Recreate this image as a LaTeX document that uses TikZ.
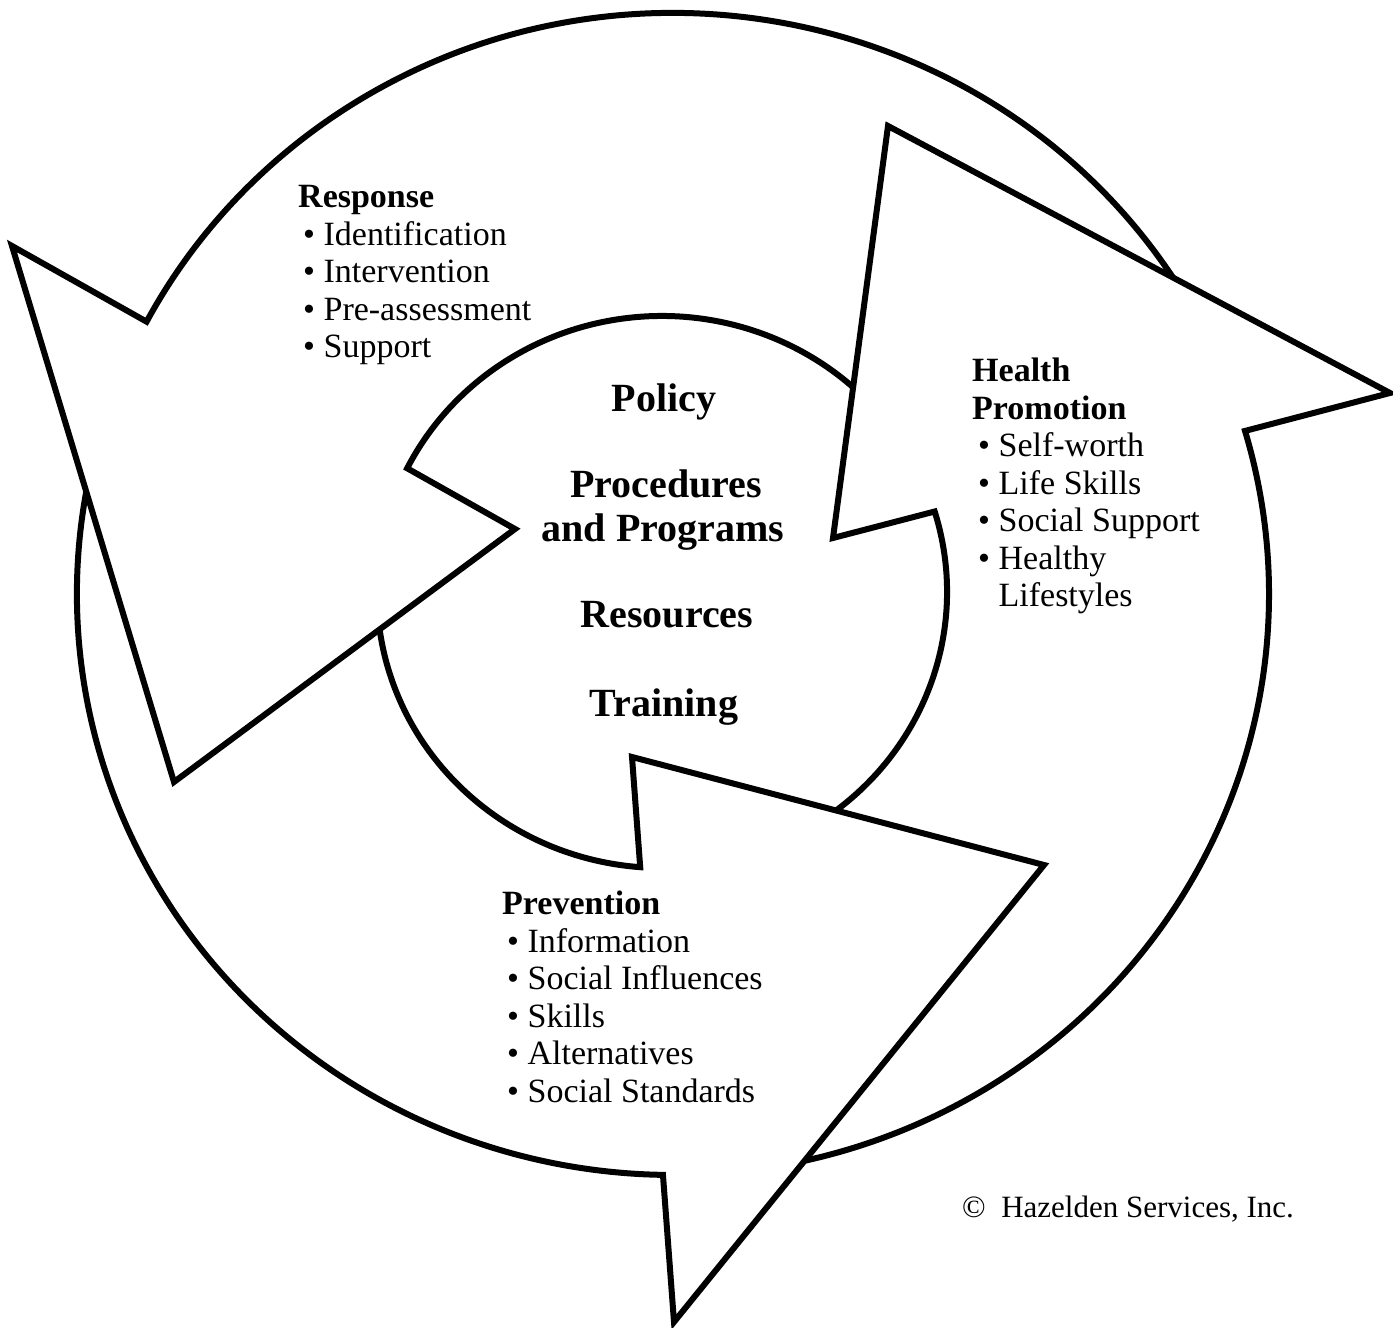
\documentclass[tikz,border=0pt]{standalone}
\usepackage{fontspec}
\setmainfont{Liberation Serif}
\usetikzlibrary{intersections,calc}
\begin{document}
\begin{tikzpicture}[x=1pt,y=1pt]
\tikzset{
  arrowline/.style={line width=6pt, line join=miter},
  item/.style={anchor=base west, inner sep=0pt, font=\fontsize{34}{37}\selectfont},
  head/.style={anchor=base west, inner sep=0pt, font=\bfseries\fontsize{34}{37}\selectfont},
  core/.style={anchor=base, inner sep=0pt, font=\bfseries\fontsize{40}{44}\selectfont},
  note/.style={anchor=base west, inner sep=0pt, font=\fontsize{31}{34}\selectfont}
}
\useasboundingbox[fill=white] (0,0) rectangle (1393,1328);

% centres of the two rings
\coordinate (Oc) at (673,734);
\coordinate (Ic) at (662,736);
% arrow heads: base outer end, base inner end, apex
\coordinate (RO) at (12,1082);
\coordinate (RI) at (515,799);
\coordinate (RA) at (174,546);
\coordinate (HO) at (1390,935);
\coordinate (HI) at (833,790);
\coordinate (HA) at (888,1202);
\coordinate (PI) at (632,571);
\coordinate (PO) at (674,6);
\coordinate (PA) at (1044,463);

\path[name path=outer] (Oc) ellipse [x radius=596, y radius=581];
\path[name path=inner] (Ic) ellipse [x radius=285, y radius=276];
\path[name path=Rbase] (RO) -- (RI);
\path[name path=Rleft] (RO) -- (RA);
\path[name path=Rright] (RA) -- (RI);
\path[name path=Hbase] (HO) -- (HI);
\path[name path=Hlong] (HO) -- (HA);
\path[name path=Hleft] (HA) -- (HI);
\path[name path=Pbase] (PI) -- (PO);
\path[name path=Plong] (PA) -- (PO);
\path[name path=Ptop] (PI) -- (PA);

\path[name intersections={of=outer and Rbase, by={RnO}}];
\path[name intersections={of=inner and Rbase, by={RnI}}];
\path[name intersections={of=outer and Hbase, by={HnO}}];
\path[name intersections={of=inner and Hbase, by={HnI}}];
\path[name intersections={of=outer and Pbase, by={PnO}}];
\path[name intersections={of=inner and Pbase, by={PnI}}];
% tails (hidden under the preceding head)
\path[name intersections={of=outer and Hlong, by={RtO}}];
\path[name intersections={of=inner and Hleft, by={RtI}}];
\path[name intersections={of=outer and Rleft, by={PtO}}];
\path[name intersections={of=inner and Rright, by={PtI}}];
\path[name intersections={of=outer and Plong, by={HtO}}];
\path[name intersections={of=inner and Ptop, by={HtI}}];

% Response arrow
\draw[arrowline] let \p1=($(RtO)-(Oc)$), \p2=($(RnO)-(Oc)$), \p3=($(RnI)-(Ic)$), \p4=($(RtI)-(Ic)$),
  \n1={atan2(\y1/581,\x1/596)}, \n2={atan2(\y2/581,\x2/596)},
  \n3={atan2(\y3/276,\x3/285)}, \n4={atan2(\y4/276,\x4/285)} in
  (RtO) arc[start angle=\n1, end angle=\n2, x radius=596, y radius=581]
  -- (RO) -- (RA) -- (RI) -- (RnI)
  arc[start angle=\n3, end angle=\n4, x radius=285, y radius=276];

% Prevention arrow
\draw[arrowline] let \p1=($(PtO)-(Oc)$), \p2=($(PnO)-(Oc)$), \p3=($(PnI)-(Ic)$), \p4=($(PtI)-(Ic)$),
  \n1={atan2(\y1/581,\x1/596)}, \n2={atan2(\y2/581,\x2/596)+360},
  \n3={atan2(\y3/276,\x3/285)}, \n4={atan2(\y4/276,\x4/285)} in
  (PtO) arc[start angle=\n1, end angle=\n2, x radius=596, y radius=581]
  -- (PO) -- (PA) -- (PI) -- (PnI)
  arc[start angle=\n3, end angle=\n4, x radius=285, y radius=276];

% Health Promotion arrow
\draw[arrowline] let \p1=($(HtO)-(Oc)$), \p2=($(HnO)-(Oc)$), \p3=($(HnI)-(Ic)$), \p4=($(HtI)-(Ic)$),
  \n1={atan2(\y1/581,\x1/596)}, \n2={atan2(\y2/581,\x2/596)},
  \n3={atan2(\y3/276,\x3/285)}, \n4={atan2(\y4/276,\x4/285)} in
  (HtO) arc[start angle=\n1, end angle=\n2, x radius=596, y radius=581]
  -- (HO) -- (HA) -- (HI) -- (HnI)
  arc[start angle=\n3, end angle=\n4, x radius=285, y radius=276];

% Response text
\node[head] (resp)  at (298,1120)   {Response};
\node[item] (resp1) at (303,1082.5) {\textbullet\ Identification};
\node[item] (resp2) at (303,1045)   {\textbullet\ Intervention};
\node[item] (resp3) at (303,1007.5) {\textbullet\ Pre-assessment};
\node[item] (resp4) at (303,970)    {\textbullet\ Support};

% Health Promotion text
\node[head] (hp)  at (972,946)   {Health};
\node[head] (hpb) at (972,908.5) {Promotion};
\node[item] (hp1) at (978,871)   {\textbullet\ Self-worth};
\node[item] (hp2) at (978,833.5) {\textbullet\ Life Skills};
\node[item] (hp3) at (978,796)   {\textbullet\ Social Support};
\node[item] (hp4) at (978,758.5) {\textbullet\ Healthy};
\node[item] (hp5) at (978,721)   {\phantom{\textbullet\ }Lifestyles};

% Prevention text
\node[head] (prev)  at (502,413)   {Prevention};
\node[item] (prev1) at (507,375.5) {\textbullet\ Information};
\node[item] (prev2) at (507,338)   {\textbullet\ Social Influences};
\node[item] (prev3) at (507,300.5) {\textbullet\ Skills};
\node[item] (prev4) at (507,263)   {\textbullet\ Alternatives};
\node[item] (prev5) at (507,225.5) {\textbullet\ Social Standards};

% centre text
\node[core] (c1) at (664,916) {Policy};
\node[core] (c2) at (666,830) {Procedures};
\node[core] (c3) at (663,786) {and Programs};
\node[core] (c4) at (667,700) {Resources};
\node[core] (c5) at (664,611) {Training};

% copyright
\node[note] (copy) at (962,110) {©\enspace Hazelden Services, Inc.};
\end{tikzpicture}
\end{document}
